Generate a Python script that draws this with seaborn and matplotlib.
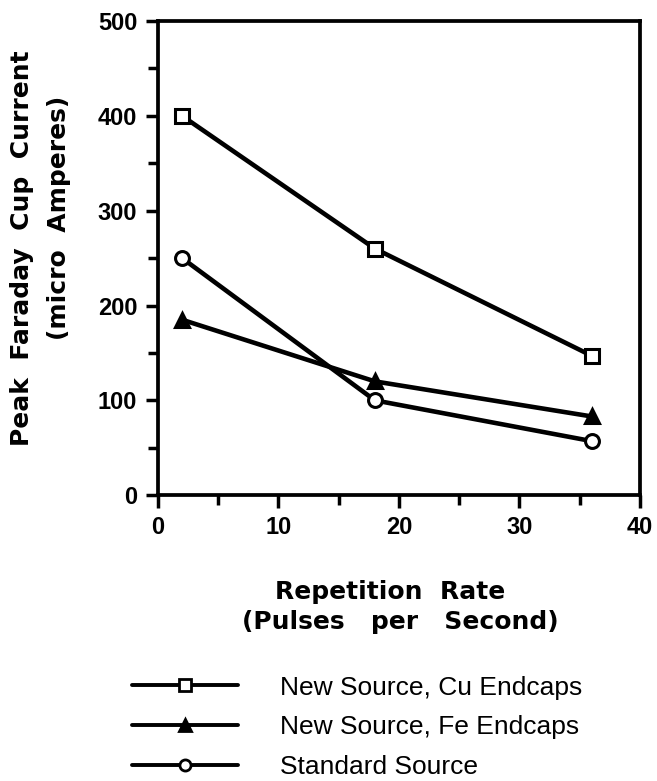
import matplotlib

matplotlib.use("Agg")
import matplotlib.pyplot as plt
import pandas as pd
import seaborn as sns
from matplotlib.lines import Line2D
from matplotlib.ticker import MultipleLocator

# Data
rep_rate = [2, 18, 36]
cu_endcaps = [400, 260, 147]
fe_endcaps = [185, 120, 83]
standard = [250, 100, 57]
series_names = [
    "New Source, Cu Endcaps",
    "New Source, Fe Endcaps",
    "Standard Source",
]
x_ticks = [0, 10, 20, 30, 40]
y_ticks = [0, 100, 200, 300, 400, 500]

df = pd.concat(
    [
        pd.DataFrame({"rate": rep_rate, "current": vals, "series": name})
        for name, vals in zip(series_names, [cu_endcaps, fe_endcaps, standard])
    ]
)

sns.set_style("ticks")
plt.rcParams["font.family"] = ["Liberation Sans", "DejaVu Sans"]
plt.rcParams.update({
    "text.color": "black",
    "axes.labelcolor": "black",
    "xtick.color": "black",
    "ytick.color": "black",
})
label_font = dict(family=["DejaVu Sans"], fontsize=18, fontweight="bold")

W, H = 657, 781
fig = plt.figure(figsize=(W / 100, H / 100), dpi=100)
ax = fig.add_axes([0.2405, 0.366, 0.7335, 0.607])

markers = {
    "New Source, Cu Endcaps": dict(marker="s", mfc="white"),
    "New Source, Fe Endcaps": dict(marker="^", mfc="black"),
    "Standard Source": dict(marker="o", mfc="white"),
}

for name in series_names:
    sub = df[df["series"] == name]
    sns.lineplot(
        data=sub,
        x="rate",
        y="current",
        ax=ax,
        color="black",
        linewidth=3.3,
        markersize=10,
        markeredgewidth=2.2,
        markeredgecolor="black",
        **markers[name],
    )

ax.set_xlim(0, 40)
ax.set_ylim(0, 500)
ax.set_xticks(x_ticks)
ax.set_yticks(y_ticks)
ax.xaxis.set_minor_locator(MultipleLocator(5))
ax.yaxis.set_minor_locator(MultipleLocator(50))
ax.tick_params(which="major", length=9, width=2.5, labelsize=17, direction="out", pad=6,
               colors="black")
ax.tick_params(which="minor", length=7, width=2.5, direction="out", colors="black")
for lab in ax.get_xticklabels() + ax.get_yticklabels():
    lab.set_fontweight("bold")

for side in ["left", "bottom", "top", "right"]:
    ax.spines[side].set_visible(True)
    ax.spines[side].set_linewidth(2.7)
    ax.spines[side].set_color("black")

# axis titles, placed as in the reference
ax.set_xlabel("")
ax.set_ylabel("")
fig.text(390 / W, 1 - 592 / H, "Repetition  Rate", ha="center", va="center", **label_font)
fig.text(400 / W, 1 - 622 / H, "(Pulses   per   Second)", ha="center", va="center", **label_font)
fig.text(22 / W, 1 - 248 / H, "Peak  Faraday  Cup  Current", rotation=90,
         ha="center", va="center", **label_font)
fig.text(59 / W, 1 - 218 / H, "(micro  Amperes)", rotation=90,
         ha="center", va="center", **label_font)

handles = [
    Line2D([], [], color="black", linewidth=2.8, markersize=8,
           markeredgewidth=2, markeredgecolor="black", **markers[name])
    for name in series_names
]
fig.legend(
    handles,
    series_names,
    loc="upper left",
    bbox_to_anchor=(0.201, 0.135),
    frameon=False,
    fontsize=19,
    handlelength=4.0,
    handletextpad=1.6,
    labelspacing=0.6,
    borderpad=0,
    borderaxespad=0,
    labelcolor="black",
)

fig.savefig("out.png", dpi=100)
